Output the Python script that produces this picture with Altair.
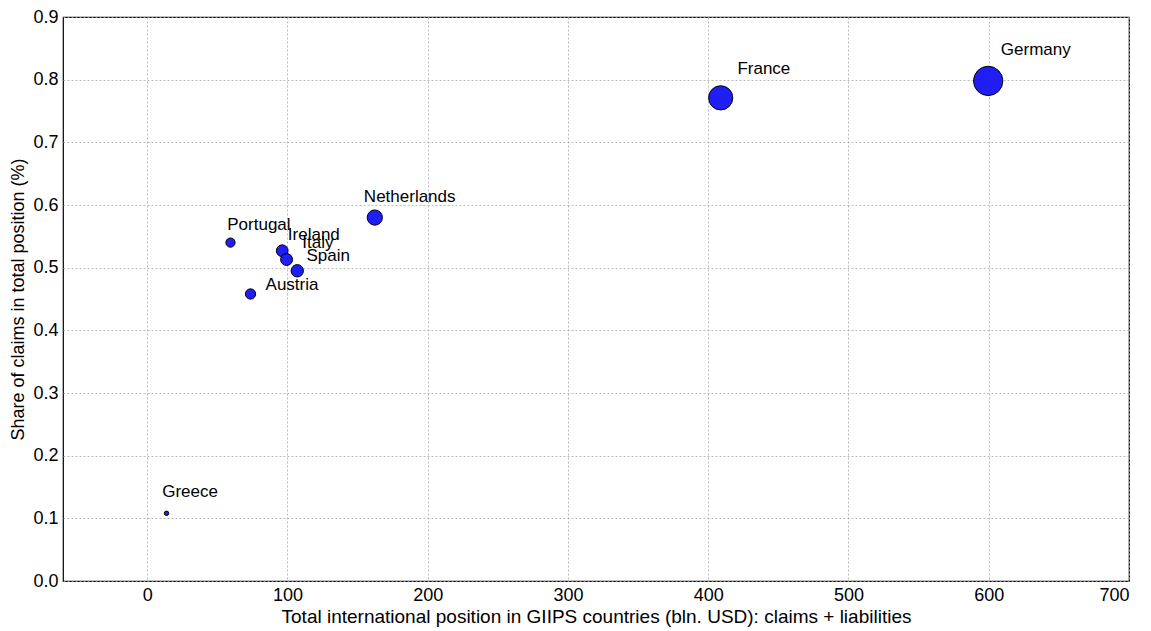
import altair as alt
import pandas as pd

countries = ["Greece", "Portugal", "Austria", "Ireland", "Italy", "Spain", "Netherlands", "France", "Germany"]
total_position = [13.8, 59.4, 73.7, 96.3, 99.4, 107.0, 162.3, 408.9, 599.6]
share_claims = [0.108, 0.540, 0.458, 0.527, 0.513, 0.495, 0.580, 0.771, 0.798]
label_x = [10.7, 57.1, 84.4, 100.3, 110.6, 113.6, 154.5, 420.8, 608.6]
label_y = [0.1335, 0.560, 0.465, 0.544, 0.531, 0.510, 0.604, 0.809, 0.840]

df = pd.DataFrame({
    "country": countries,
    "total": total_position,
    "share": share_claims,
    "lx": label_x,
    "ly": label_y,
})

FONT = "Liberation Sans"

xscale = alt.Scale(domain=[-60, 700], nice=False, zero=False)
yscale = alt.Scale(domain=[0, 0.9], nice=False)

xaxis = alt.Axis(values=[0, 100, 200, 300, 400, 500, 600, 700], format="d",
                 title="Total international position in GIIPS countries (bln. USD): claims + liabilities",
                 grid=True, gridColor="#a8a8a8", gridDash=[2, 2], gridWidth=0.8,
                 domain=False, ticks=False, labelFont=FONT, labelFontSize=18,
                 labelColor="black", labelPadding=5, titleFont=FONT, titleFontSize=19,
                 titleFontWeight="normal", titleColor="black", titlePadding=3)
yaxis = alt.Axis(values=[0, 0.1, 0.2, 0.3, 0.4, 0.5, 0.6, 0.7, 0.8, 0.9], format=".1f",
                 title="Share of claims in total position (%)",
                 grid=True, gridColor="#a8a8a8", gridDash=[2, 2], gridWidth=0.8,
                 domain=False, ticks=False, labelFont=FONT, labelFontSize=18,
                 labelColor="black", labelPadding=5, titleFont=FONT, titleFontSize=18,
                 titleFontWeight="normal", titleColor="black", titlePadding=5)

points = alt.Chart(df).mark_circle(fill="#1f1ff5", stroke="black", strokeWidth=1, opacity=1).encode(
    x=alt.X("total:Q", scale=xscale, axis=xaxis),
    y=alt.Y("share:Q", scale=yscale, axis=yaxis),
    size=alt.Size("total:Q", scale=alt.Scale(domain=[0, 600], range=[0, 860]), legend=None),
)

labels = alt.Chart(df).mark_text(align="left", baseline="alphabetic", font=FONT,
                                 fontSize=17, color="black").encode(
    x=alt.X("lx:Q", scale=xscale),
    y=alt.Y("ly:Q", scale=yscale),
    text="country:N",
)

chart = alt.layer(labels, points).properties(
    width=1066, height=564,
    padding={"left": 55, "top": 9, "right": 10, "bottom": 50},
    autosize=alt.AutoSizeParams(type="none"),
).configure_view(stroke="black", strokeWidth=1.2)

chart.save("out.html", embed_options={"renderer": "svg", "actions": False})
